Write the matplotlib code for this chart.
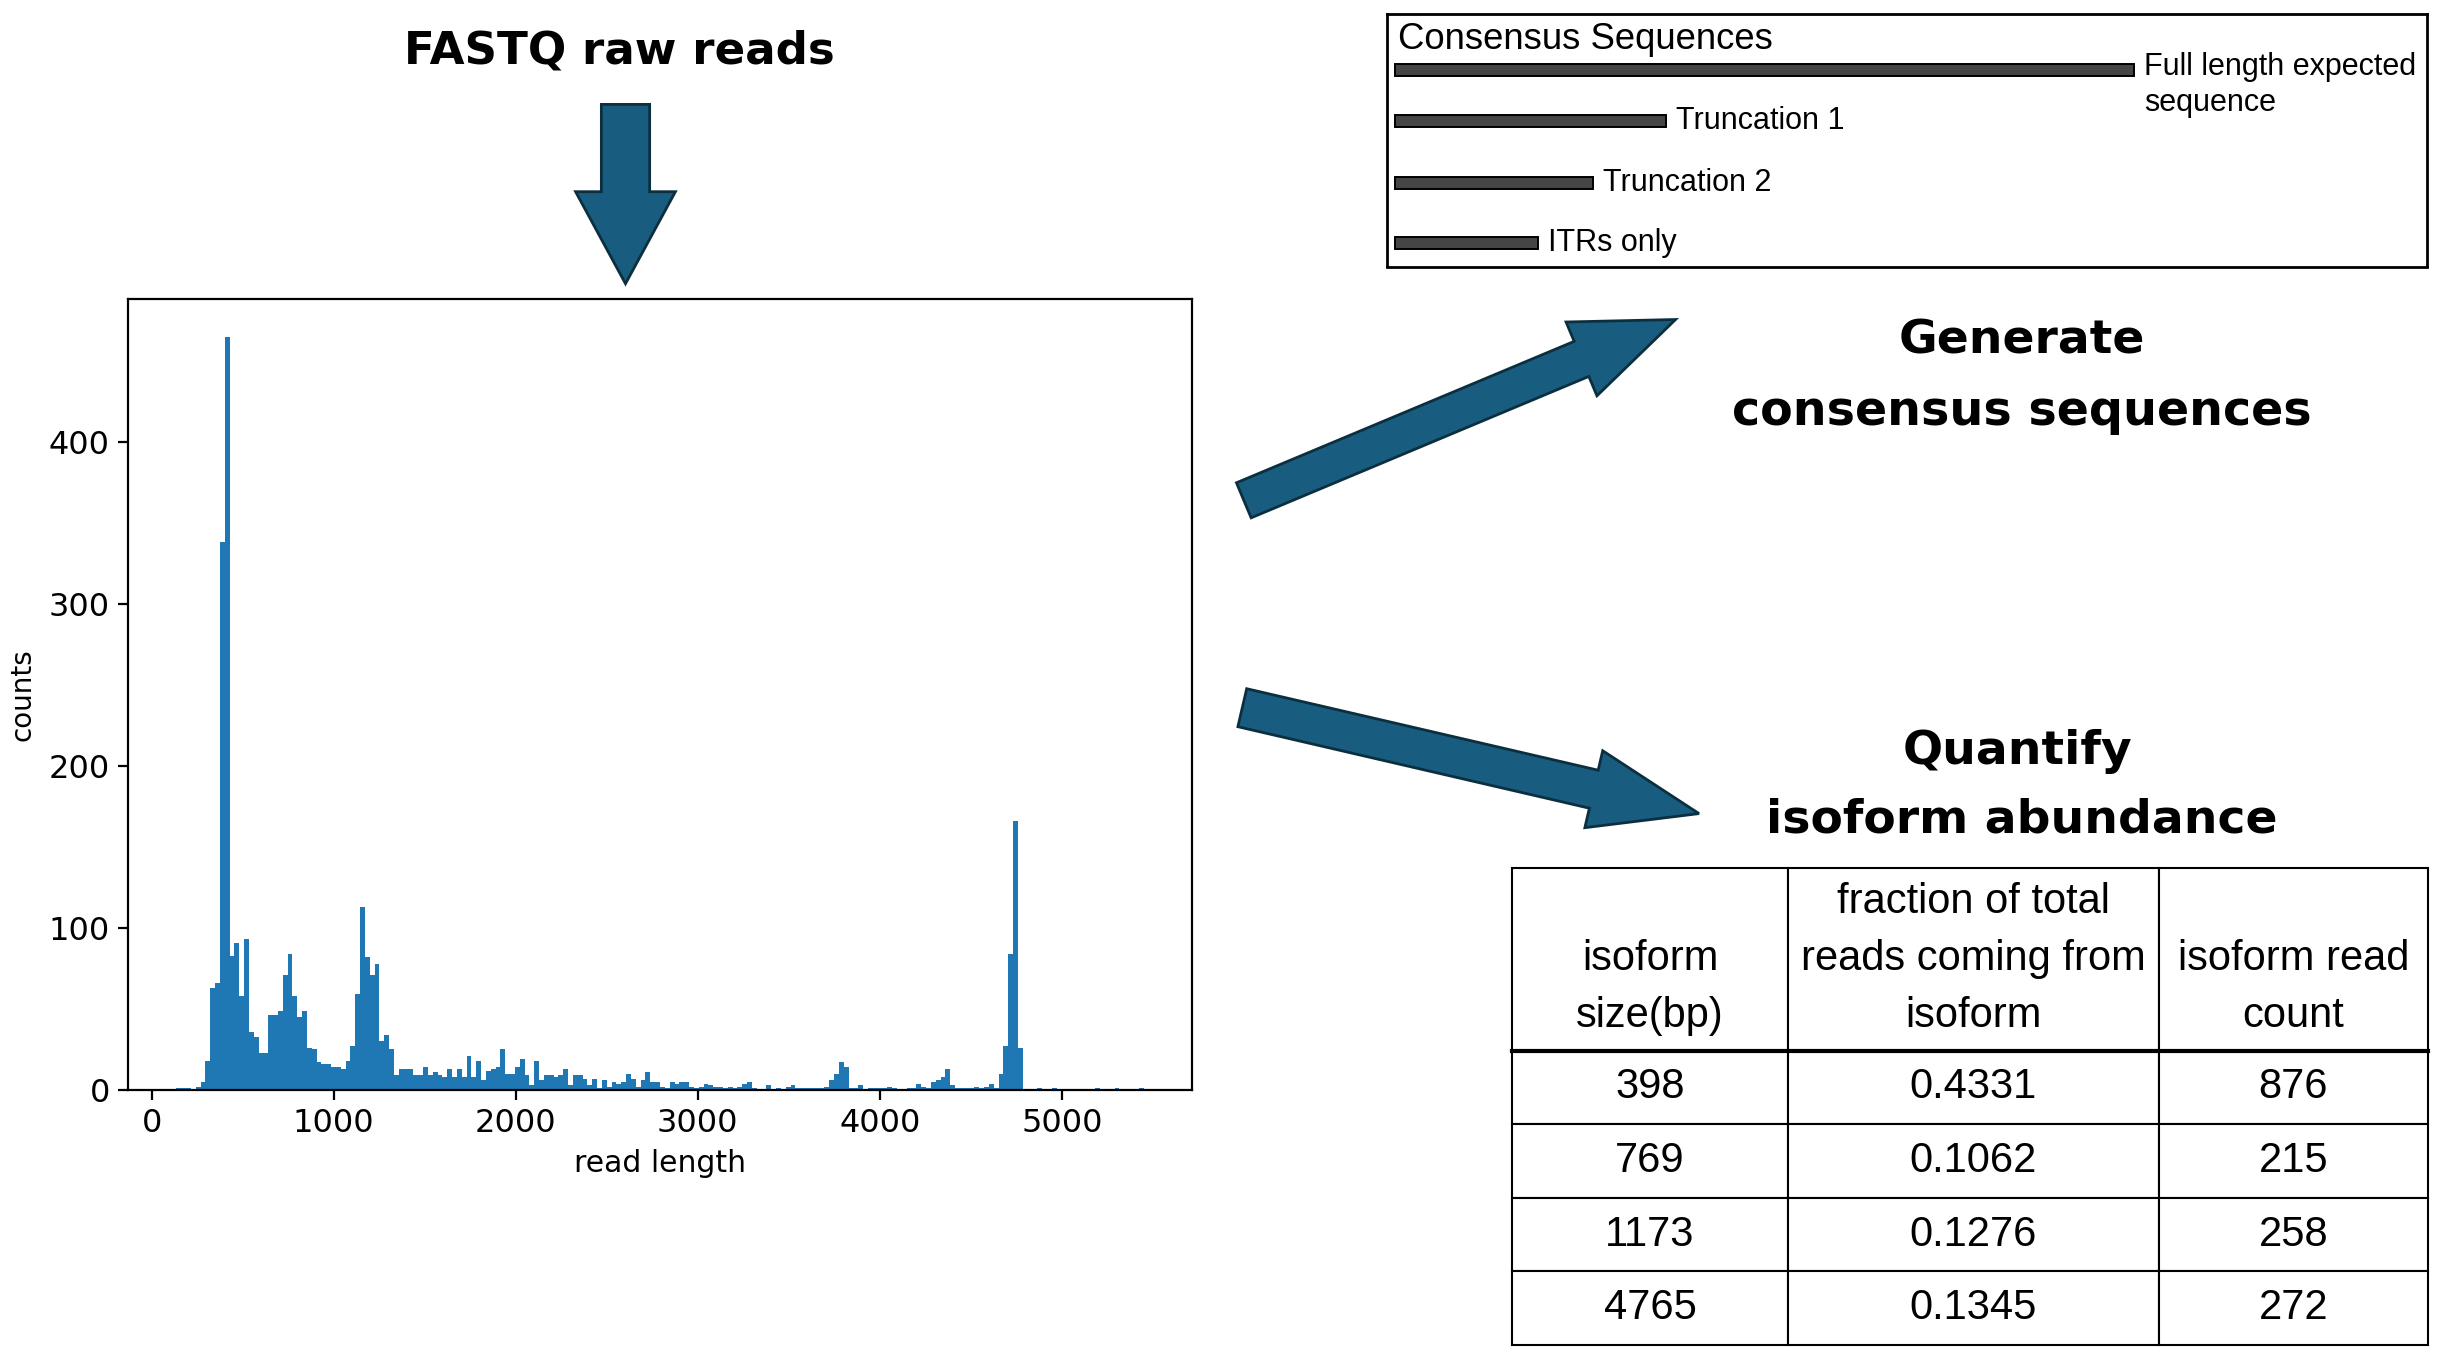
import matplotlib.pyplot as plt
from matplotlib.patches import FancyArrow
import numpy as np

# read length histogram, 200 bins between shortest and longest read
read_min, read_max = 136, 5449
n_bins = 200
counts = [1, 1, 1, 0, 2, 5, 18, 63, 66, 338,
          465, 83, 91, 58, 93, 36, 33, 23, 23, 46,
          46, 49, 71, 84, 58, 45, 49, 26, 25, 17,
          16, 16, 14, 14, 13, 18, 27, 59, 113, 82,
          71, 78, 30, 34, 25, 9, 13, 13, 13, 9,
          9, 14, 9, 11, 9, 8, 13, 8, 13, 8,
          21, 8, 18, 6, 12, 13, 14, 25, 10, 10,
          14, 19, 9, 3, 18, 6, 9, 9, 8, 9,
          13, 3, 9, 9, 7, 3, 7, 1, 6, 2,
          5, 4, 5, 10, 7, 2, 6, 11, 5, 5,
          2, 1, 5, 4, 5, 5, 2, 1, 2, 4,
          3, 2, 2, 1, 2, 1, 2, 4, 5, 1,
          0, 0, 3, 0, 1, 0, 2, 3, 1, 1,
          1, 1, 1, 1, 2, 6, 10, 17, 14, 1,
          1, 3, 0, 1, 1, 1, 1, 2, 1, 0,
          0, 1, 1, 4, 2, 1, 5, 6, 8, 13,
          3, 1, 1, 1, 1, 2, 1, 2, 4, 1,
          10, 27, 84, 166, 26, 0, 0, 0, 1, 0,
          0, 1, 0, 0, 0, 0, 0, 0, 0, 0,
          1, 0, 0, 0, 1, 0, 0, 0, 0, 1]

# consensus sequence schematic (relative bar lengths)
seq_names = ['Full length expected\nsequence', 'Truncation 1', 'Truncation 2', 'ITRs only']
seq_len = [739, 271, 198, 143]

# isoform table
iso_size = [398, 769, 1173, 4765]
iso_frac = [0.4331, 0.1062, 0.1276, 0.1345]
iso_reads = [876, 215, 258, 272]
col_labels = ['\nisoform\nsize(bp)', 'fraction of total\nreads coming from\nisoform', '\nisoform read\ncount']

W, H = 2444, 1358


def box(x0, y0, x1, y1):
    # pixel box (from top-left) -> figure fraction rect
    return [x0 / W, 1 - y1 / H, (x1 - x0) / W, (y1 - y0) / H]


fig = plt.figure(figsize=(W / 100, H / 100), dpi=100)

# histogram
ax = fig.add_axes(box(128, 299, 1192, 1090))
edges = np.linspace(read_min, read_max, n_bins + 1)
ax.hist(edges[:-1], bins=edges, weights=counts, color='#1f77b4')
ax.set_yticks([0, 100, 200, 300, 400])
ax.set_xticks([0, 1000, 2000, 3000, 4000, 5000])
ax.tick_params(labelsize=23, length=7, width=1.6, pad=6)
ax.set_xlabel('read length', fontsize=21.5, labelpad=7)
ax.set_ylabel('counts', fontsize=20, labelpad=9)
for s in ax.spines.values():
    s.set_linewidth(1.6)

# consensus sequences box
cx = fig.add_axes(box(1387, 14, 2427, 266.5))
row_y = [0, 0.88, 1.96, 3]  # vertical slots of the schematic rows
cx.barh(row_y, seq_len, height=0.2, color='#454545', edgecolor='black', lw=1.4)
cx.set_xlim(-8, 1032)
cx.set_ylim(3.405, -0.97)
cx.set_xticks([])
cx.set_yticks([])
for s in cx.spines.values():
    s.set_linewidth(2)
cx.text(3, -0.53, 'Consensus Sequences', fontsize=26.3, family='Liberation Sans',
        ha='left', va='center')
for i, name in enumerate(seq_names):
    yt = row_y[i] + 0.26 if '\n' in name else row_y[i]
    cx.text(seq_len[i] + 10, yt, name, fontsize=22, family='Liberation Sans',
            ha='left', va='center', linespacing=1.3)

# table
tx = fig.add_axes(box(1512, 868, 2428, 1345))
tx.axis('off')
rows = [[str(s), f'{f:.4f}', str(r)] for s, f, r in zip(iso_size, iso_frac, iso_reads)]
tbl = tx.table(cellText=rows, colLabels=col_labels, cellLoc='center',
               colWidths=[276, 371, 269], bbox=[0, 0, 1, 1])
tbl.auto_set_font_size(False)
tbl.set_fontsize(30)
head_h, row_h = 182.6, 73.6
for (r, c), cell in tbl.get_celld().items():
    cell.set_height(head_h if r == 0 else row_h)
    cell.set_linewidth(1.5)
    cell.get_text().set_fontfamily('Liberation Sans')
    cell.get_text().set_linespacing(1.55)
yh = 1 - head_h / (head_h + len(rows) * row_h)
tx.plot([0, 1], [yh, yh], color='black', lw=3, transform=tx.transAxes, clip_on=False)

# overlay: arrows and headings in pixel coordinates
ov = fig.add_axes([0, 0, 1, 1])
ov.set_xlim(0, W)
ov.set_ylim(H, 0)
ov.axis('off')
ov.patch.set_visible(False)
fc, ec = '#185d7f', '#0c2f40'
ov.add_patch(FancyArrow(625.5, 104.4, 0, 179.3, width=48.3, head_width=99.8, head_length=92,
                        length_includes_head=True, fc=fc, ec=ec, lw=2))
ov.add_patch(FancyArrow(1243.8, 500.3, 431.8, -180.8, width=38, head_width=80, head_length=102,
                        length_includes_head=True, fc=fc, ec=ec, lw=2))
ov.add_patch(FancyArrow(1242.3, 707.7, 456.7, 105.9, width=39, head_width=79, head_length=108,
                        length_includes_head=True, fc=fc, ec=ec, lw=2))

ov.text(619.6, 51.5, 'FASTQ raw reads', ha='center', va='center', fontsize=32.5, fontweight='bold')
ov.text(2022, 341.5, 'Generate', ha='center', va='center', fontsize=34, fontweight='bold')
ov.text(2022, 411.5, 'consensus sequences', ha='center', va='center', fontsize=34.3, fontweight='bold')
ov.text(2017, 751.5, 'Quantify', ha='center', va='center', fontsize=34, fontweight='bold')
ov.text(2022, 820, 'isoform abundance', ha='center', va='center', fontsize=34, fontweight='bold')

fig.savefig('out.png', dpi=100)
